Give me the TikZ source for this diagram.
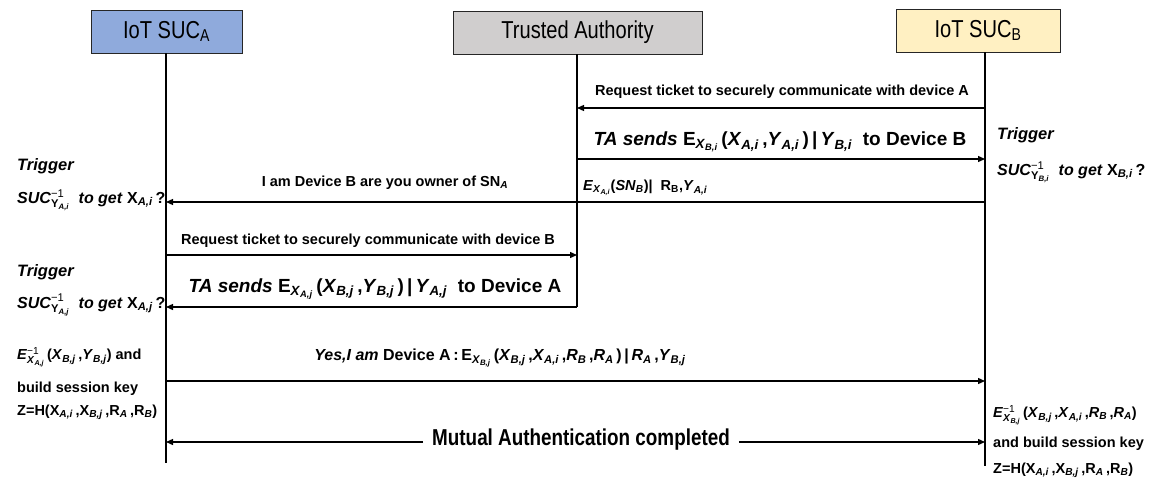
\documentclass[tikz,border=0pt]{standalone}
\usepackage{fontspec}
\setmainfont{Liberation Sans}
\newfontfamily\narrowfont{Liberation Sans}[FakeStretch=0.82]
\usetikzlibrary{arrows.meta}
\makeatletter
% small lowered / stacked indices set in the current text font
\newcommand\sub[1]{\ensuremath{_{\mbox{\fontsize{\sf@size}{\z@}\selectfont #1}}}}
\newcommand\supsub[2]{\ensuremath{^{\mbox{\fontsize{\sf@size}{\z@}\selectfont #1}}_{\mbox{\fontsize{\sf@size}{\z@}\selectfont #2}}}}
\makeatother
% italic variable with italic index
\newcommand\Xs[2]{\textit{#1}\sub{\textit{#2}}}
% upright variable with italic index
\newcommand\Xu[2]{#1\sub{\textit{#2}}}
\definecolor{headA}{HTML}{8FAADC}
\definecolor{headT}{HTML}{D0CECE}
\definecolor{headB}{HTML}{FFF0C2}
\tikzset{
  head/.style={draw=black!85, line width=0.8pt, minimum height=43pt, inner sep=0pt,
    font=\narrowfont\fontsize{24.5}{27}\selectfont},
  life/.style={line width=1.3pt},
  msg/.style={line width=1.3pt, -{Triangle[length=7pt,width=6pt]}},
  lbl/.style={font=\bfseries\fontsize{14.5}{17}\selectfont, inner sep=0pt},
  biglbl/.style={font=\bfseries\fontsize{19}{22}\selectfont, inner sep=0pt},
  note/.style={font=\bfseries\fontsize{14.5}{17}\selectfont, inner sep=0pt, anchor=west},
  trig/.style={font=\bfseries\itshape\fontsize{16.5}{19}\selectfont, inner sep=0pt, anchor=west},
  sucl/.style={font=\bfseries\fontsize{16}{19}\selectfont, inner sep=0pt, anchor=west},
}
\begin{document}
\begin{tikzpicture}[x=1pt,y=-1pt]
\useasboundingbox (0,0) rectangle (1158,484);

% participants
\node[head, fill=headA, minimum width=151pt] (A) at (166.5,31.5) {IoT SUC\sub{A}};
\node[head, fill=headT, minimum width=249pt] (T) at (577.5,32.5) {Trusted Authority};
\node[head, fill=headB, minimum width=164pt] (B) at (978,30.5) {IoT SUC\sub{B}};

% lifeline ends
\coordinate (Aend) at (166,463);
\coordinate (Tend) at (577,307);
\coordinate (Bend) at (985,466);
\draw[life] (A.south -| Aend) -- (Aend);
\draw[life] (T.south -| Tend) -- (Tend);
\draw[life] (B.south -| Bend) -- (Bend);

% message end points on the lifelines
\coordinate (B1) at (985,108);  \coordinate (T1) at (577,108);
\coordinate (T2) at (577,159);  \coordinate (B2) at (985,159);
\coordinate (B3) at (985,202);  \coordinate (A3) at (166,202);
\coordinate (A4) at (166,255);  \coordinate (T4) at (577,255);
\coordinate (T5) at (577,307);  \coordinate (A5) at (166,307);
\coordinate (A6) at (166,381);  \coordinate (B6) at (985,381);
\coordinate (A7) at (166,442);  \coordinate (B7) at (985,442);

% messages
\draw[msg] (B1) -- (T1);
\draw[msg] (T2) -- (B2);
\draw[msg] (B3) -- (A3);
\draw[msg] (A4) -- (T4);
\draw[msg] (T5) -- (A5);
\draw[msg] (A6) -- (B6);

% message labels
\node[lbl] (m1) at (782,92) {Request ticket to securely communicate with device A};
\node[biglbl] (m2) at (780,142) {\textit{TA sends} E\sub{\Xs{X}{B,i}}\,(\Xs{X}{A,i}\,,\Xs{Y}{A,i}\,)\,|\,\Xs{Y}{B,i}\ \ to Device B};
\node[lbl] (m3) at (385,183) {I am Device B are you owner of SN\sub{\textit{A}}};
\node[lbl, anchor=west] (m3b) at (583,188) {\textit{E}\sub{\Xs{X}{A,i}}(\textit{SN}\sub{\textit{B}})|\ \ R\sub{B},\Xs{Y}{A,i}};
\node[lbl] (m4) at (368,241) {Request ticket to securely communicate with device B};
\node[biglbl] (m5) at (375,289) {\textit{TA sends} E\sub{\Xs{X}{A,j}}\,(\Xs{X}{B,j}\,,\Xs{Y}{B,j}\,)\,|\,\Xs{Y}{A,j}\ \ to Device A};
\node[lbl, font=\bfseries\fontsize{16}{19}\selectfont] (m6) at (500,358) {\textit{Yes,I am} Device A\,:\,E\sub{\Xs{X}{B,j}}\,(\Xs{X}{B,j}\,,\Xs{X}{A,i}\,,\Xs{R}{B}\,,\Xs{R}{A}\,)\,|\,\Xs{R}{A}\,,\Xs{Y}{B,j}};

% closing exchange
\node[font=\narrowfont\bfseries\fontsize{23}{26}\selectfont, inner xsep=9pt, inner ysep=0pt] (mut) at (581,440) {Mutual Authentication completed};
\draw[msg] (mut.west |- A7) -- (A7);
\draw[msg] (mut.east |- B7) -- (B7);

% device A side notes
\node[trig] (ta1) at (17,166) {Trigger};
\node[sucl] (sa1) at (17,200) {\textit{SUC}\supsub{\mdseries−1}{Y\sub{\textit{A,i}}}\ \ \textit{to get} \Xu{X}{A,i}\,?};
\node[trig] (ta2) at (17,272) {Trigger};
\node[sucl] (sa2) at (17,305) {\textit{SUC}\supsub{\mdseries−1}{Y\sub{\textit{A,j}}}\ \ \textit{to get} \Xu{X}{A,j}\,?};
\node[note] (ka1) at (17,357) {\textit{E}\supsub{\mdseries−1}{\Xs{X}{A,j}}\,(\Xs{X}{B,j}\,,\Xs{Y}{B,j}) and};
\node[note] (ka2) at (17,389) {build session key};
\node[note] (ka3) at (17,412) {Z=H(\Xu{X}{A,i}\,,\Xu{X}{B,j}\,,\Xu{R}{A}\,,\Xu{R}{B})};

% device B side notes
\node[trig] (tb1) at (997,135) {Trigger};
\node[sucl] (sb1) at (997,172) {\textit{SUC}\supsub{\mdseries−1}{Y\sub{\textit{B,i}}}\ \ \textit{to get} \Xu{X}{B,i}\,?};
\node[note] (kb1) at (993,415) {\textit{E}\supsub{\mdseries−1}{\Xs{X}{B,j}}\,(\Xs{X}{B,j}\,,\Xs{X}{A,i}\,,\Xs{R}{B}\,,\Xs{R}{A})};
\node[note] (kb2) at (993,444) {and build session key};
\node[note] (kb3) at (993,470) {Z=H(\Xu{X}{A,i}\,,\Xu{X}{B,j}\,,\Xu{R}{A}\,,\Xu{R}{B})};
\end{tikzpicture}
\end{document}
